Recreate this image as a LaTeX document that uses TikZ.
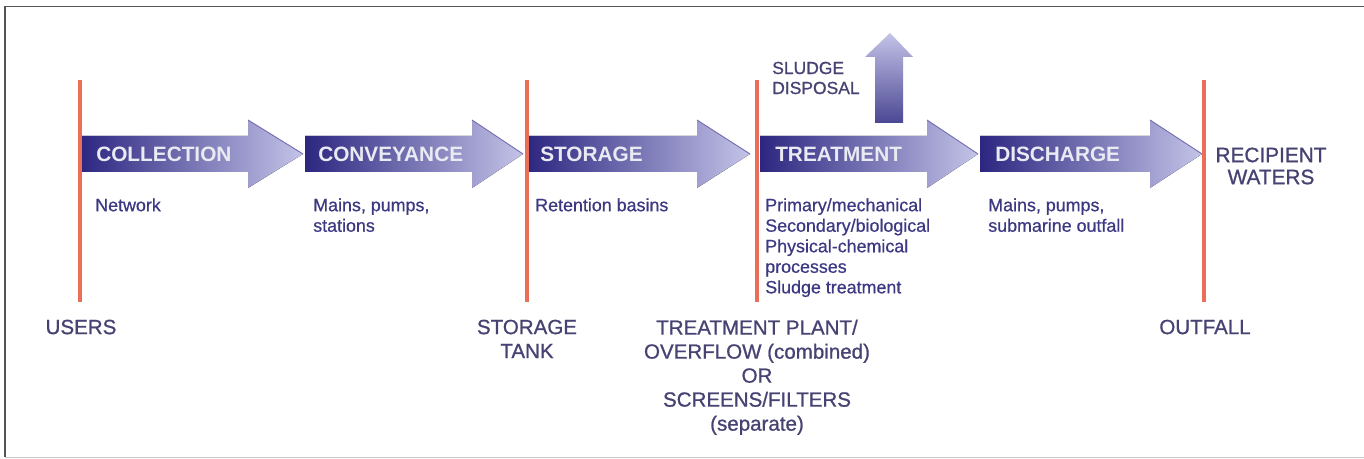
\documentclass[tikz,border=0pt]{standalone}
\usepackage{fontspec}
\setmainfont{Liberation Sans}
\newfontfamily\medfont[FakeBold=0.9]{Liberation Sans}
\newfontfamily\descfont[FakeBold=0.6]{Liberation Sans}
\definecolor{redline}{RGB}{234,110,88}
\definecolor{flowdark}{RGB}{44,38,128}
\definecolor{flowlight}{RGB}{196,196,232}
\definecolor{edgecol}{RGB}{118,112,182}
\definecolor{smalltxt}{RGB}{60,56,130}
\definecolor{bigtxt}{RGB}{70,66,114}
\definecolor{bandtxt}{RGB}{234,234,242}
\definecolor{framecol}{RGB}{85,85,85}
\definecolor{framelight}{RGB}{200,200,200}
\newcommand\drawflow[3]{%
  \fill[flowshade] (#1,136) -- (#2,136) -- (#2,120) -- (#3,154) -- (#2,188) -- (#2,172) -- (#1,172) -- cycle;
  \draw[headedge] (#2,120) -- (#3,154);}
\begin{document}
\begin{tikzpicture}[x=0.75pt,y=-0.75pt,
  flowshade/.style={left color=flowdark, right color=flowlight},
  headedge/.style={draw=edgecol, line width=0.7pt},
  marker/.style={draw=redline, line width=2.5pt},
  bandlabel/.style={anchor=west, inner sep=0pt, text=bandtxt, font=\bfseries\fontsize{15.6}{18}\selectfont},
  desc/.style={anchor=north west, inner sep=0pt, align=left, text=smalltxt, font=\descfont\fontsize{13.4}{15.4}\selectfont},
  place/.style={anchor=north, inner sep=0pt, align=center, text=bigtxt, font=\medfont\fontsize{15.4}{18}\selectfont}]
\useasboundingbox (0,0) rectangle (1364,459);
% frame
\draw[framecol, line width=1.1pt] (1366,6.5) -- (5,6.5) -- (5,457.5);
\draw[framelight, line width=0.8pt] (5,457.5) -- (1366,457.5);
% flow arrows
\drawflow{80}{248}{303}
\drawflow{305}{472}{523}
\drawflow{527}{697}{750}
\drawflow{760}{927}{978}
\drawflow{980}{1150}{1202}
% sludge disposal arrow
\shade[bottom color=flowdark!85!white, top color=flowlight]
  (875,123) -- (875,57) -- (865,57) -- (890,33) -- (913,57) -- (903,57) -- (903,123) -- cycle;
% red markers
\coordinate (m1t) at (80,80);   \coordinate (m1b) at (80,302);
\coordinate (m2t) at (527,80);  \coordinate (m2b) at (527,302);
\coordinate (m3t) at (757,80);  \coordinate (m3b) at (757,302);
\coordinate (m4t) at (1204,80); \coordinate (m4b) at (1204,302);
\draw[marker] (m1t) -- (m1b);
\draw[marker] (m2t) -- (m2b);
\draw[marker] (m3t) -- (m3b);
\draw[marker] (m4t) -- (m4b);
% band labels
\node[bandlabel] (collection) at (96,154) {COLLECTION};
\node[bandlabel] (conveyance) at (318,154) {CONVEYANCE};
\node[bandlabel] (storage) at (540,154) {STORAGE};
\node[bandlabel] (treatment) at (775,154) {TREATMENT};
\node[bandlabel] (discharge) at (995,154) {DISCHARGE};
% descriptions
\node[desc] (network) at (95,198) {Network};
\node[desc] (convdesc) at (313,198) {Mains, pumps,\\stations};
\node[desc] (stordesc) at (535,198) {Retention basins};
\node[desc] (treatdesc) at (765,198) {Primary/mechanical\\Secondary/biological\\Physical-chemical\\processes\\Sludge treatment};
\node[desc] (discdesc) at (988,198) {Mains, pumps,\\submarine outfall};
% places
\node[place] (users) at (81,319.5) {USERS};
\node[place] (tank) at (527,319.5) {STORAGE\\TANK};
\node[place] (plant) at (757,319.5) {TREATMENT PLANT/\\OVERFLOW (combined)\\OR\\SCREENS/FILTERS\\(separate)};
\node[place] (outfall) at (1205,319.5) {OUTFALL};
\node[anchor=center, inner sep=0pt, align=center, text=bigtxt, font=\medfont\fontsize{15.6}{16.5}\selectfont] (recipient) at (1271,166) {RECIPIENT\\WATERS};
\node[anchor=west, inner sep=0pt, align=left, text=bigtxt, font=\medfont\fontsize{13.1}{15}\selectfont] (sludge) at (772,78) {SLUDGE\\DISPOSAL};
\end{tikzpicture}
\end{document}
